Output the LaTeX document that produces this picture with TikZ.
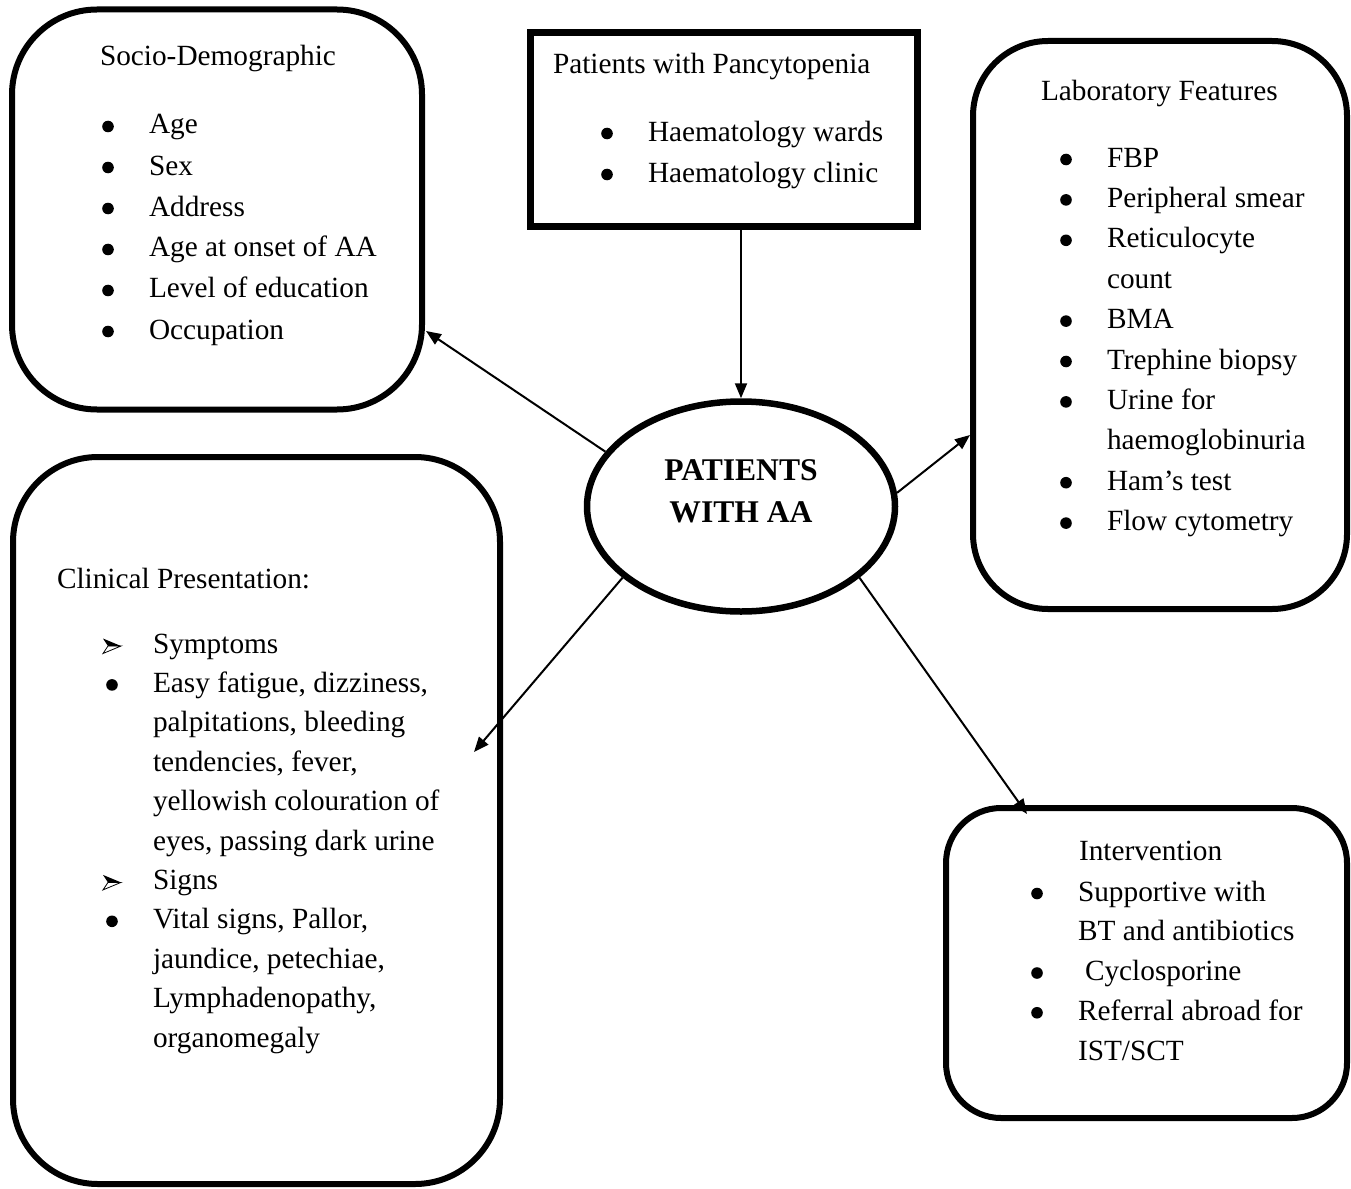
\documentclass[tikz,border=0pt]{standalone}
\usepackage{fontspec}
\setmainfont{Liberation Serif}
\usetikzlibrary{arrows.meta,shapes.geometric,calc}
\newcommand\bdot{\tikz[baseline=0pt]\fill (0pt,7.5pt) circle[radius=5.8pt];}
\newcommand\barr{\tikz[baseline=0pt,line width=0.8pt,line join=miter]{%
  \fill (0pt,14.5pt) -- (18pt,7pt) -- (5pt,7pt) -- cycle;
  \draw (0pt,-0.5pt) -- (18pt,7pt) -- (5pt,7pt) -- cycle;}}
\newcommand\bli[2]{\llap{\makebox[0pt][c]{#1}\hspace{41pt}}#2}
\begin{document}
\begin{tikzpicture}[x=1pt,y=-1pt,
  box/.style={draw, line width=6pt, rounded corners=#1, inner sep=0pt},
  box/.default=80pt,
  arr/.style={line width=2pt, -{Triangle[length=15pt,width=12pt]}},
  txt/.style={inner sep=0pt, outer sep=0pt, anchor=base west, align=left},
  fs/.style={font=\fontsize{29.3}{#1}\selectfont}]
\useasboundingbox (0,0) rectangle (1351,1188);

% boxes
\node[box=85pt, minimum width=410pt, minimum height=400pt] (soc) at (217,209.5) {};
\node[draw, line width=7pt, inner sep=0pt, minimum width=387pt, minimum height=193pt] (pan) at (723.5,129.5) {};
\node[box=75pt, minimum width=374pt, minimum height=568pt] (lab) at (1160,325) {};
\node[box=85pt, minimum width=487pt, minimum height=727pt] (cli) at (256.5,820.5) {};
\node[box=55pt, minimum width=401pt, minimum height=310pt] (int) at (1146.5,963) {};
\node[ellipse, draw, line width=6.5pt, inner sep=0pt, minimum width=308pt, minimum height=210pt] (ell) at (741,506.5) {};

% texts
\node[txt, fs=41] (socT) at (100,66) {Socio-Demographic};
\node[txt, fs=41] (socL) at (149,134) {\begin{tabular}[t]{@{}l@{}}
\bli{\bdot}{Age}\\
\bli{\bdot}{Sex}\\
\bli{\bdot}{Address}\\
\bli{\bdot}{Age at onset of AA}\\
\bli{\bdot}{Level of education}\\
\bli{\bdot}{Occupation}
\end{tabular}};

\node[txt, fs=41] (panT) at (553,74) {Patients with Pancytopenia};
\node[txt, fs=41] (panL) at (648,141) {\begin{tabular}[t]{@{}l@{}}
\bli{\bdot}{Haematology wards}\\
\bli{\bdot}{Haematology clinic}
\end{tabular}};

\node[txt, fs=41] (labT) at (1041,101) {Laboratory Features};
\node[txt, fs=40.4] (labL) at (1107,167) {\begin{tabular}[t]{@{}l@{}}
\bli{\bdot}{FBP}\\
\bli{\bdot}{Peripheral smear}\\
\bli{\bdot}{Reticulocyte}\\
count\\
\bli{\bdot}{BMA}\\
\bli{\bdot}{Trephine biopsy}\\
\bli{\bdot}{Urine for}\\
haemoglobinuria\\
\bli{\bdot}{Ham’s test}\\
\bli{\bdot}{Flow cytometry}
\end{tabular}};

\node[txt, fs=41] (cliT) at (57,588) {Clinical Presentation:};
\node[txt, fs=39.4] (cliL) at (153,653) {\begin{tabular}[t]{@{}l@{}}
\bli{\barr}{Symptoms}\\
\bli{\bdot}{Easy fatigue, dizziness,}\\
palpitations, bleeding\\
tendencies, fever,\\
yellowish colouration of\\
eyes, passing dark urine\\
\bli{\barr}{Signs}\\
\bli{\bdot}{Vital signs, Pallor,}\\
jaundice, petechiae,\\
Lymphadenopathy,\\
organomegaly
\end{tabular}};

\node[txt, fs=41] (intT) at (1079,860) {Intervention};
\node[txt, fs=39.75] (intL) at (1078,901) {\begin{tabular}[t]{@{}l@{}}
\bli{\bdot}{Supportive with}\\
BT and antibiotics\\
\bli{\bdot}{\hspace{7pt}Cyclosporine}\\
\bli{\bdot}{Referral abroad for}\\
IST/SCT
\end{tabular}};

\node[inner sep=0pt, anchor=base, font=\bfseries\fontsize{31.6}{42}\selectfont] (ellT) at (741,480)
  {\begin{tabular}[t]{@{}c@{}}PATIENTS\\WITH AA\end{tabular}};

% free ends
\coordinate (tsoc) at (426,331);
\coordinate (tlab) at (970,435);
\coordinate (tcli) at (474,752);
\coordinate (tint) at (1027,814);

% connectors
\draw[arr] (ell.north |- pan.south) -- (ell.north);
\draw[arr] (ell.158) -- (tsoc);
\draw[arr] (ell.5.5) -- (tlab);
\draw[arr] (ell.211) -- (tcli);
\draw[arr] (ell.329) -- (tint);
\end{tikzpicture}
\end{document}
